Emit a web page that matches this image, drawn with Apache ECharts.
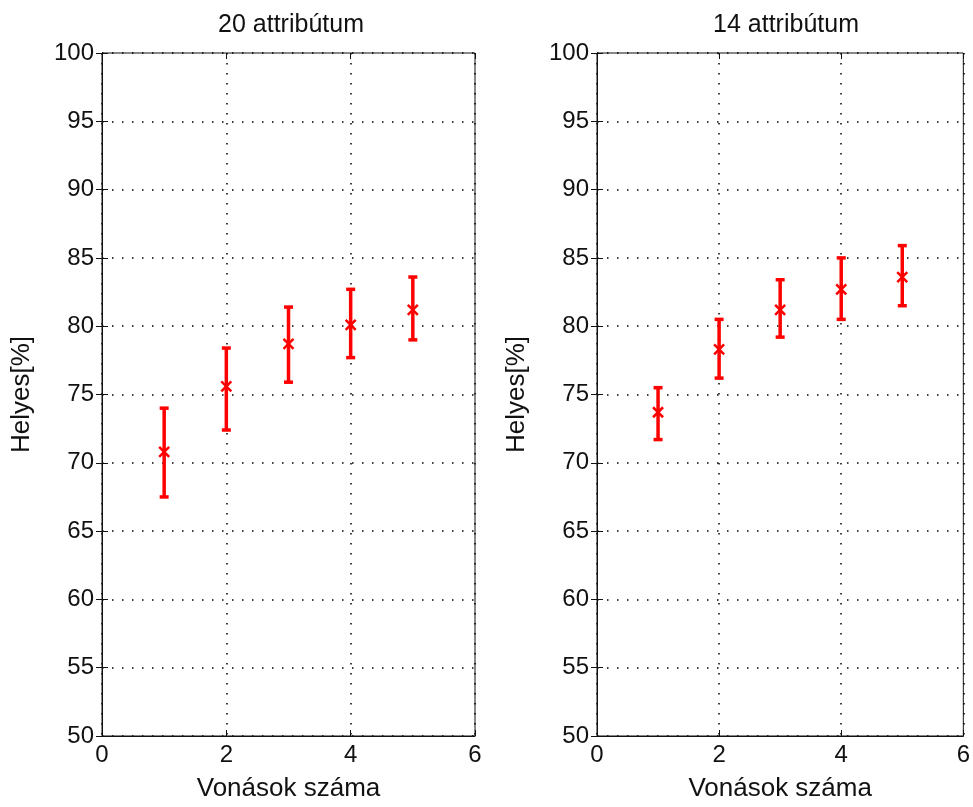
<!DOCTYPE html>
<html><head><meta charset="utf-8">
<script src="https://cdn.jsdelivr.net/npm/echarts@6/dist/echarts.min.js"></script>
<style>html,body{margin:0;padding:0;background:#fff}#c{width:973px;height:807px}</style>
</head><body><div id="c"></div>
<script>
const xValues = [1, 2, 3, 4, 5];
const titles = ['20 attribútum', '14 attribútum'];
const mean20 = [70.8, 75.6, 78.7, 80.1, 81.2];
const low20  = [67.5, 72.4, 75.9, 77.7, 79.0];
const high20 = [74.0, 78.4, 81.4, 82.7, 83.6];
const mean14 = [73.7, 78.3, 81.2, 82.7, 83.6];
const low14  = [71.7, 76.2, 79.2, 80.5, 81.5];
const high14 = [75.5, 80.5, 83.4, 85.0, 85.9];
const yTicks = [50, 55, 60, 65, 70, 75, 80, 85, 90, 95, 100];
const xTicks = [0, 2, 4, 6];
const xLabel = 'Vonások száma';
const yLabel = 'Helyes[%]';

const font = 'Liberation Sans, Arial, sans-serif';
const chart = echarts.init(document.getElementById('c'));
const grids = [
  {left: 102, top: 53, width: 373, height: 684, show: true, borderColor: '#111', borderWidth: 1, backgroundColor: '#fff'},
  {left: 597, top: 53, width: 372, height: 684, show: true, borderColor: '#111', borderWidth: 1, backgroundColor: '#fff'}
];
const gridDots = {show: true, lineStyle: {color: '#000', type: [1.5, 8.5], width: 1.5}};
const xAxes = [], yAxes = [];
[0, 1].forEach(g => {
  xAxes.push({type: 'value', gridIndex: g, min: 0, max: 6, interval: 2, position: 'bottom',
    name: xLabel, nameLocation: 'middle', nameGap: 40,
    nameTextStyle: {fontFamily: font, fontSize: 26, color: '#111'},
    axisLine: {show: true, lineStyle: {color: '#111'}},
    axisTick: {show: true, inside: true, length: 6, lineStyle: {color: '#111'}},
    axisLabel: {fontFamily: font, fontSize: 24, color: '#111', margin: 7,
      formatter: v => xTicks.includes(v) ? String(v) : ''},
    splitLine: gridDots});
  xAxes.push({type: 'value', gridIndex: g, min: 0, max: 6, interval: 2, position: 'top',
    axisLine: {show: false}, axisTick: {show: true, inside: true, length: 6, lineStyle: {color: '#111'}},
    axisLabel: {show: false}, splitLine: {show: false}});
  yAxes.push({type: 'value', gridIndex: g, min: 50, max: 100, interval: 5, position: 'left',
    name: yLabel, nameLocation: 'middle', nameGap: 67,
    nameTextStyle: {fontFamily: font, fontSize: 26, color: '#111'},
    axisLine: {show: true, lineStyle: {color: '#111'}},
    axisTick: {show: true, inside: true, length: 6, lineStyle: {color: '#111'}},
    axisLabel: {fontFamily: font, fontSize: 24, color: '#111', margin: 8,
      formatter: v => yTicks.includes(v) ? String(v) : ''},
    splitLine: gridDots});
  yAxes.push({type: 'value', gridIndex: g, min: 50, max: 100, interval: 5, position: 'right',
    axisLine: {show: false}, axisTick: {show: true, inside: true, length: 6, lineStyle: {color: '#111'}},
    axisLabel: {show: false}, splitLine: {show: false}});
});

function errSeries(g, mean, low, high) {
  const data = xValues.map((x, i) => [x, mean[i], low[i], high[i]]);
  return {
    type: 'custom', xAxisIndex: g * 2, yAxisIndex: g * 2, data: data,
    renderItem: function (params, api) {
      const x = api.value(0);
      const pm = api.coord([x, api.value(1)]);
      const pl = api.coord([x, api.value(2)]);
      const ph = api.coord([x, api.value(3)]);
      const c = 4.5, m = 5;
      const st = {stroke: '#ff0000', lineWidth: 3.5};
      const ms = {stroke: '#ff0000', lineWidth: 2.5};
      return {type: 'group', children: [
        {type: 'line', shape: {x1: pl[0], y1: pl[1], x2: ph[0], y2: ph[1]}, style: st},
        {type: 'line', shape: {x1: pl[0] - c, y1: pl[1], x2: pl[0] + c, y2: pl[1]}, style: st},
        {type: 'line', shape: {x1: ph[0] - c, y1: ph[1], x2: ph[0] + c, y2: ph[1]}, style: st},
        {type: 'line', shape: {x1: pm[0] - m, y1: pm[1] - m, x2: pm[0] + m, y2: pm[1] + m}, style: ms},
        {type: 'line', shape: {x1: pm[0] - m, y1: pm[1] + m, x2: pm[0] + m, y2: pm[1] - m}, style: ms}
      ]};
    }
  };
}

chart.setOption({
  animation: false,
  backgroundColor: '#fff',
  title: [
    {text: titles[0], left: 286, top: 8, textAlign: 'center', textStyle: {fontFamily: font, fontSize: 25, fontWeight: 'normal', color: '#111'}},
    {text: titles[1], left: 781, top: 8, textAlign: 'center', textStyle: {fontFamily: font, fontSize: 25, fontWeight: 'normal', color: '#111'}}
  ],
  grid: grids, xAxis: xAxes, yAxis: yAxes,
  series: [errSeries(0, mean20, low20, high20), errSeries(1, mean14, low14, high14)]
});
</script></body></html>
